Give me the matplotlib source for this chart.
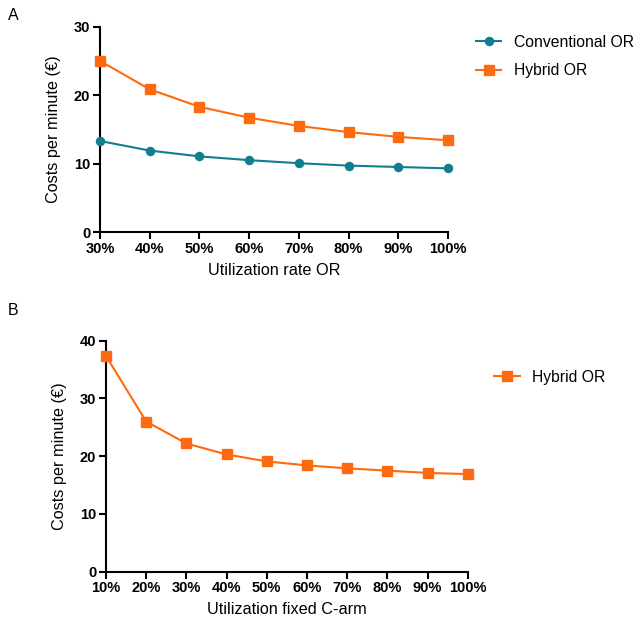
import matplotlib
matplotlib.use("Agg")
import matplotlib.pyplot as plt

plt.rcParams["font.family"] = ["Liberation Sans", "DejaVu Sans"]

# Panel A
util_a = [30, 40, 50, 60, 70, 80, 90, 100]
conventional = [13.3, 11.9, 11.05, 10.5, 10.05, 9.7, 9.5, 9.3]
hybrid_a = [25.0, 20.85, 18.3, 16.7, 15.5, 14.6, 13.9, 13.4]

# Panel B
util_b = [10, 20, 30, 40, 50, 60, 70, 80, 90, 100]
hybrid_b = [37.35, 26.0, 22.2, 20.3, 19.1, 18.4, 17.9, 17.5, 17.1, 16.9]

TEAL = "#117d90"
ORANGE = "#fd6a10"

fig = plt.figure(figsize=(6.34, 6.21), dpi=100)
ax_a = fig.add_axes([0.1577, 0.6264, 0.5489, 0.3306])
ax_b = fig.add_axes([0.1672, 0.0794, 0.5705, 0.3720])


def style(ax, xs, ymax, xlabel):
    ax.set_xlim(xs[0], xs[-1])
    ax.set_ylim(0, ymax)
    ax.set_xticks(xs)
    ax.set_xticklabels([f"{v}%" for v in xs])
    ax.set_yticks(range(0, ymax + 1, 10))
    for s in ("top", "right"):
        ax.spines[s].set_visible(False)
    for s in ("left", "bottom"):
        ax.spines[s].set_linewidth(1.5)
    ax.tick_params(direction="out", length=5, width=1.5, labelsize=10.5, pad=2)
    for lab in ax.get_xticklabels() + ax.get_yticklabels():
        lab.set_fontweight("bold")
    ax.set_xlabel(xlabel, fontsize=11.7, labelpad=5)
    ax.set_ylabel("Costs per minute (€)", fontsize=11.7, labelpad=9)


ax_a.plot(util_a, conventional, color=TEAL, lw=1.5, marker="o", ms=5.8,
          clip_on=False, zorder=3, label="Conventional OR")
ax_a.plot(util_a, hybrid_a, color=ORANGE, lw=1.5, marker="s", ms=6.5,
          clip_on=False, zorder=3, label="Hybrid OR")
style(ax_a, util_a, 30, "Utilization rate OR")
ax_a.legend(loc="upper left", bbox_to_anchor=(1.04, 1.03), frameon=False,
            fontsize=11.3, handlelength=1.6, labelspacing=0.85)

ax_b.plot(util_b, hybrid_b, color=ORANGE, lw=1.5, marker="s", ms=6.5,
          clip_on=False, zorder=3, label="Hybrid OR")
style(ax_b, util_b, 40, "Utilization fixed C-arm")
ax_b.legend(loc="upper left", bbox_to_anchor=(1.035, 0.935), frameon=False,
            fontsize=11.3, handlelength=1.6)

fig.text(0.013, 0.975, "A", fontsize=11.5, va="center")
fig.text(0.013, 0.5, "B", fontsize=11.5, va="center")

fig.savefig("out.png", dpi=100)
